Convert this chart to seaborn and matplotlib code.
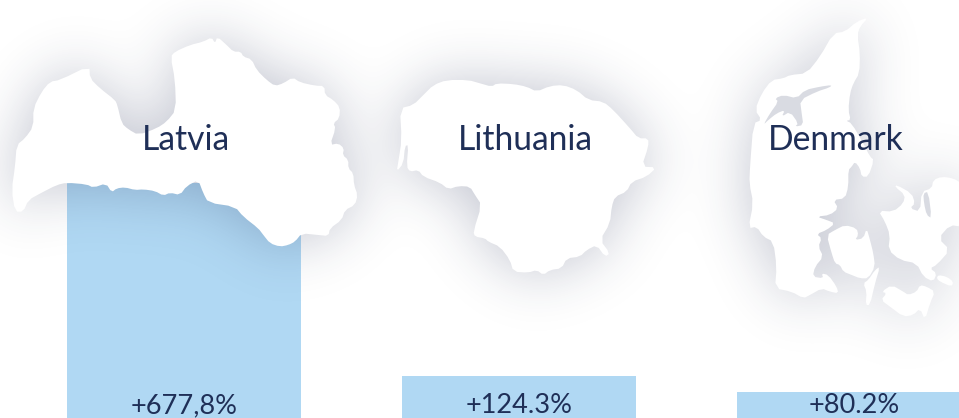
import matplotlib
matplotlib.use("Agg")
import matplotlib.pyplot as plt
import numpy as np
import pandas as pd
import seaborn as sns

# chart values
countries = ["Latvia", "Lithuania", "Denmark"]
growth = [677.8, 124.3, 80.2]
growth_labels = ["+677,8%", "+124.3%", "+80.2%"]

BAR_COLOR = "#b0d8f3"
TEXT_COLOR = "#1f2f57"
SHADOW_COLOR = (0.13, 0.17, 0.33)
W, H = 959, 418

# map outlines (pixels)
latvia = [(268,137),(270,175),(300,205),(345,240),(352,255),(365,310),(385,328),(415,345),(470,325),(500,305),(528,270),(525,180),(512,110),(525,95),(570,75),(610,65),(635,52),(645,70),(652,50),(680,75),(700,95),(722,95),(730,110),(755,118),(770,150),(800,180),(825,198),(850,190),(878,172),(900,187),(945,197),(973,198),(975,225),(1000,240),(1020,262),(1018,295),(1000,310),(1007,325),(990,375),(1015,370),(1032,385),(1028,405),(1045,420),(1045,445),(1060,460),(1062,495),(1073,525),(1065,555),(1035,570),(1025,600),(990,625),(985,648),(955,645),(905,640),(885,665),(865,675),(840,680),(810,670),(790,645),(775,625),(730,590),(705,560),(625,548),(610,520),(595,480),(560,498),(540,525),(510,518),(490,527),(465,513),(430,508),(405,510),(375,502),(350,505),(335,517),(318,490),(280,503),(260,493),(200,488),(170,495),(125,518),(85,540),(70,575),(45,575),(35,510),(45,440),(50,375),(75,355),(100,320),(100,265),(125,215),(150,185),(180,180)]
lithuania = [(60,145),(100,135),(130,105),(160,75),(200,60),(265,60),(300,70),(335,80),(350,70),(400,72),(440,80),(470,95),(510,78),(550,75),(590,90),(625,120),(670,125),(700,150),(750,205),(775,235),(805,235),(805,260),(785,320),(830,322),(800,350),(755,365),(740,395),(705,410),(695,440),(690,490),(660,540),(690,580),(675,590),(650,555),(620,570),(600,590),(560,595),(545,625),(510,630),(490,645),(470,630),(445,638),(400,635),(390,600),(360,560),(325,545),(315,535),(285,530),(280,515),(305,435),(285,405),(270,380),(235,378),(205,388),(180,368),(130,350),(115,330),(90,335),(80,320),(85,255),(75,258),(70,310),(50,335),(55,305),(65,240)]
jutland = [(445,22),(420,50),(412,75),(420,130),(418,190),(400,220),(390,250),(385,300),(392,330),(378,332),(395,340),(430,400),(450,440),(462,450),(445,500),(425,500),(420,475),(405,455),(395,470),(385,480),(385,530),(375,565),(340,570),(355,595),(330,615),(290,620),(320,630),(345,640),(320,660),(290,672),(305,685),(295,710),(310,740),(285,770),(278,800),(310,805),(305,790),(325,795),(350,830),(355,850),(330,845),(305,835),(270,855),(250,865),(215,845),(165,835),(170,770),(160,695),(130,680),(110,650),(85,655),(100,580),(88,520),(90,470),(100,340),(125,330),(105,300),(125,250),(155,210),(190,205),(210,195),(260,190),(300,140),(340,70),(375,65),(410,35)]
funen = [(320,675),(345,660),(375,645),(410,655),(415,675),(405,690),(430,685),(440,655),(450,690),(460,730),(465,770),(445,805),(420,805),(395,795),(370,785),(360,765),(345,760),(335,730)]
langeland = [(480,770),(465,820),(450,885),(437,885),(440,845),(430,820),(445,810),(465,780)]
lolland = [(515,825),(550,845),(565,855),(590,845),(600,825),(620,830),(645,845),(630,880),(615,930),(600,895),(580,915),(550,920),(510,890),(483,870),(500,850),(485,845)]
zealand = [(475,602),(520,605),(550,580),(555,555),(525,530),(530,525),(575,550),(585,580),(570,595),(600,605),(605,545),(635,535),(640,510),(665,500),(700,505),(725,520),(725,650),(690,645),(655,685),(690,720),(650,765),(630,775),(650,790),(640,815),(610,800),(590,760),(540,750),(505,720),(510,675),(495,635)]
falster = [(655,795),(680,800),(700,815),(695,830),(660,815),(650,805)]
# water inside the Danish land
limfjord = [(335,225),(300,230),(255,240),(230,265),(190,255),(165,265),(175,275),(150,310),(130,345),(145,330),(170,310),(195,300),(185,320),(210,305),(235,340),(225,350),(250,345),(245,310),(240,270),(290,245),(330,232)]
isefjord = [(610,550),(625,545),(635,625),(620,615),(612,580)]


def to_pixels(points, x0, y0, rounds=1):
    pts = np.array(points, dtype=float) / 3 + [x0, y0]
    for _ in range(rounds):
        nxt = np.roll(pts, -1, axis=0)
        pts = np.column_stack([0.75 * pts + 0.25 * nxt, 0.25 * pts + 0.75 * nxt]).reshape(-1, 2)
    return pts


land = [to_pixels(latvia, 0, 20), to_pixels(lithuania, 380, 60)]
land += [to_pixels(p, 720, 10) for p in [jutland, funen, langeland, lolland, zealand, falster]]
water = [to_pixels(p, 720, 10) for p in [limfjord, isefjord]]


def land_mask(pad=80):
    # rasterize the land on a scratch figure to get a shadow mask
    fig_m = plt.figure(figsize=((W + 2 * pad) / 100, (H + 2 * pad) / 100), dpi=100)
    ax_m = fig_m.add_axes([0, 0, 1, 1])
    ax_m.set_xlim(-pad, W + pad)
    ax_m.set_ylim(H + pad, -pad)
    ax_m.axis("off")
    for poly in land:
        ax_m.fill(poly[:, 0], poly[:, 1], color="black", lw=0)
    for poly in water:
        ax_m.fill(poly[:, 0], poly[:, 1], color="white", lw=0)
    fig_m.canvas.draw()
    mask = 1 - np.asarray(fig_m.canvas.buffer_rgba())[:, :, 0] / 255
    plt.close(fig_m)
    return mask


def blur(mask, sigma):
    fy = np.fft.fftfreq(mask.shape[0])[:, None]
    fx = np.fft.fftfreq(mask.shape[1])[None, :]
    kernel = np.exp(-2 * (np.pi * sigma) ** 2 * (fx**2 + fy**2))
    return np.fft.ifft2(np.fft.fft2(mask) * kernel).real


df = pd.DataFrame({"country": countries, "growth": growth})

fig = plt.figure(figsize=(W / 100, H / 100), dpi=100, facecolor="white")
plt.rcParams["font.family"] = ["Lato", "DejaVu Sans"]

# bars
ax = fig.add_axes([0, 0, 1, 1])
sns.barplot(data=df, x="country", y="growth", order=countries, color=BAR_COLOR,
            saturation=1, width=0.7, ax=ax)
ax.set_xlim(-184 / 335, (W - 184) / 335)
ax.set_ylim(2 / 0.35, 420 / 0.35)
ax.axis("off")

for i, label in enumerate(growth_labels):
    ax.text(i, 20, label, ha="center", va="baseline", fontsize=19.5, color=TEXT_COLOR)

# maps with their soft shadow, in pixel coordinates
over = fig.add_axes([0, 0, 1, 1], facecolor="none")
over.set_xlim(0, W)
over.set_ylim(H, 0)
over.axis("off")

pad = 80
shadow = blur(land_mask(pad), 29)[pad:pad + H, pad:pad + W]
rgba = np.zeros((H, W, 4))
rgba[:, :, :3] = SHADOW_COLOR
rgba[:, :, 3] = np.clip(shadow, 0, 1) * 0.28
over.imshow(rgba, extent=(0, W, H, 0), aspect="auto", interpolation="bilinear", zorder=1)
over.set_xlim(0, W)
over.set_ylim(H, 0)

for poly in land:
    over.fill(poly[:, 0], poly[:, 1], color="white", lw=0, zorder=2)
for poly in water:
    over.fill(poly[:, 0], poly[:, 1], color="#d9dbe2", lw=0, zorder=3)

name_x = [186, 525.5, 835.5]
for name, x in zip(countries, name_x):
    over.text(x, 150, name, ha="center", va="baseline", fontsize=24.2, color=TEXT_COLOR, zorder=4)

fig.savefig("out.png", dpi=100)
